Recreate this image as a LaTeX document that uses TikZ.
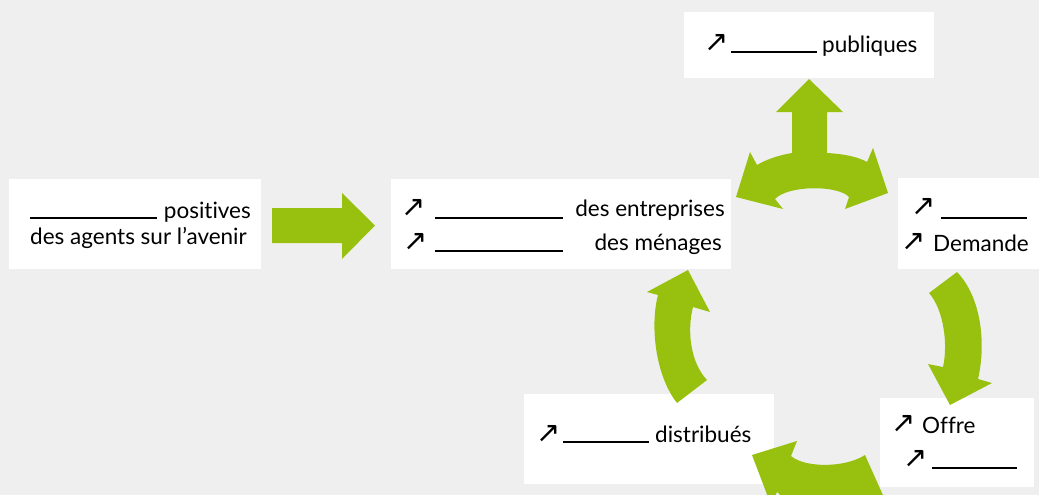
\documentclass[tikz,border=0pt]{standalone}
\usepackage{fontspec}
\setmainfont{Lato}[Ligatures=NoCommon]
\newfontfamily\symfont{DejaVu Sans}
\definecolor{bg}{HTML}{EFEFEF}
\definecolor{leaf}{HTML}{98C10F}
\tikzset{
  card/.style={fill=white, draw=none, inner sep=0pt},
  txt/.style={inner sep=0pt, text=black, font=\fontsize{22.5}{26}\selectfont},
  uparrow/.style={inner sep=0pt, text=black, font=\symfont\fontsize{29}{32}\selectfont},
  gap/.style={inner sep=0pt, text=black},
  block/.style={fill=leaf, draw=none},
}
\newcommand\blankrule[1]{\rule{#1pt}{1.5pt}}
\begin{document}
\begin{tikzpicture}[x=1pt, y=-1pt]
\useasboundingbox (0,0) rectangle (1039,495);
\fill[bg] (0,0) rectangle (1039,495);
\clip (0,0) rectangle (1039,495);

% white cards
\node[card, minimum width=252pt, minimum height=90pt] (conf) at (135,224) {};
\node[card, minimum width=340pt, minimum height=90pt] (inv) at (561,224) {};
\node[card, minimum width=250pt, minimum height=66pt] (pub) at (809,45) {};
\node[card, minimum width=141pt, minimum height=91pt] (dem) at (968.5,223.5) {};
\node[card, minimum width=154pt, minimum height=89pt] (off) at (957,442.5) {};
\node[card, minimum width=250pt, minimum height=90pt] (dist) at (649,439) {};

% left card
\node[gap, anchor=base west] (conf-b) at (30,218.7) {\blankrule{127}};
\node[txt, anchor=base east] (conf-t1) at (251,218) {positives};
\node[txt, anchor=base west] (conf-t2) at (30,244) {des agents sur l’avenir};

% centre card
\node[uparrow, anchor=base west] (inv-a1) at (401,216) {↗};
\node[gap, anchor=base west] (inv-b1) at (435,218.7) {\blankrule{128}};
\node[txt, anchor=base east] (inv-t1) at (725,216) {des entreprises};
\node[uparrow, anchor=base west] (inv-a2) at (403,250) {↗};
\node[gap, anchor=base west] (inv-b2) at (435,251.7) {\blankrule{128}};
\node[txt, anchor=base east] (inv-t2) at (722,250) {des ménages};

% top card
\node[uparrow, anchor=base west] (pub-a) at (704,52) {↗};
\node[gap, anchor=base west] (pub-b) at (731,52.7) {\blankrule{86}};
\node[txt, anchor=base west] (pub-t) at (822,53) {publiques};

% right card
\node[uparrow, anchor=base west] (dem-a1) at (911,215) {↗};
\node[gap, anchor=base west] (dem-b) at (941,218.7) {\blankrule{86}};
\node[uparrow, anchor=base west] (dem-a2) at (901,250) {↗};
\node[txt, anchor=base west] (dem-t) at (933,251) {Demande};

% lower right card
\node[uparrow, anchor=base west] (off-a1) at (891,432) {↗};
\node[txt, anchor=base west] (off-t) at (922,433) {Offre};
\node[uparrow, anchor=base west] (off-a2) at (903,467) {↗};
\node[gap, anchor=base west] (off-b) at (932,468.7) {\blankrule{85}};

% lower card
\node[uparrow, anchor=base west] (dist-a) at (536,442) {↗};
\node[gap, anchor=base west] (dist-b) at (563,442.7) {\blankrule{86}};
\node[txt, anchor=base west] (dist-t) at (655,442) {distribués};

% straight block arrow
\fill[block] (272,208) -- (342,208) -- (342,193) -- (375,225.5) -- (342,259)
  -- (342,243) -- (272,243) -- cycle;

% three-headed arrow
\fill[block] (792,153) -- (792,112) -- (776,112) -- (809,79) -- (843,112)
  -- (827,112) -- (827,153)
  .. controls (845,154) and (858,157) .. (867,162)
  -- (873,148) -- (888,193) -- (845,209) -- (849,197)
  .. controls (838,185) and (788,185) .. (775,199)
  -- (783,209) -- (736,197) -- (750,152) -- (757,165)
  .. controls (767,159) and (780,155) .. cycle;

% curved arrow down the right side
\fill[block] (957,272) -- (929,293)
  .. controls (944,310) and (948,345) .. (943,367)
  -- (928,364) -- (950,405) -- (992,383) -- (978,379)
  .. controls (986,345) and (982,298) .. cycle;

% curved arrow along the bottom
\fill[block] (865,455) -- (886,502)
  .. controls (850,522) and (800,515) .. (777,492)
  -- (771,505) -- (752,455) -- (797,441) -- (791,456)
  .. controls (805,468) and (845,468) .. cycle;

% curved arrow up the left side
\fill[block] (677,403) -- (707,380)
  .. controls (690,362) and (687,330) .. (693,307)
  -- (710,312) -- (688,270) -- (647,292) -- (658,295)
  .. controls (650,325) and (655,375) .. cycle;
\end{tikzpicture}
\end{document}
